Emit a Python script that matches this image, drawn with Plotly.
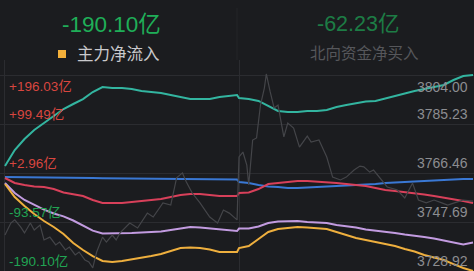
import plotly.graph_objects as go

# ---------------- data ----------------
# minutes since 09:30 open (0-120 morning, 120-240 afternoon)
minutes = [0, 5, 10, 15, 20, 25, 30, 35, 40, 45, 50, 55, 60, 65, 70, 75, 80, 85, 90, 95,
           100, 105, 110, 115, 119, 120, 125, 130, 135, 140, 145, 150, 155, 160, 165, 170,
           175, 180, 185, 190, 195, 200, 205, 210, 215, 220, 225, 230, 235, 240]

# fund flows (亿)
teal = [16.8, 48.3, 69.9, 87.7, 101.5, 115.3, 129.0, 138.9, 148.7, 162.5, 172.4, 170.4, 170.4,
        168.4, 164.5, 162.5, 160.6, 156.6, 152.7, 148.7, 148.7, 148.7, 152.7, 154.7, 156.6,
        150.7, 148.7, 145.0, 135.0, 125.1, 123.1, 123.1, 125.1, 125.1, 127.1, 133.0, 136.9,
        140.9, 143.8, 144.8, 149.7, 154.7, 160.6, 164.5, 168.4, 172.4, 176.3, 186.2, 194.1, 196.0]
blue = [-4.9, -5.0, -5.2, -5.5, -5.9, -6.1, -6.4, -6.6, -6.9, -7.1, -7.4, -7.6, -7.9, -8.1,
        -8.4, -8.6, -8.9, -8.9, -9.0, -9.1, -9.2, -9.4, -9.6, -9.8, -9.9,
        -14.8, -16.7, -20.7, -23.6, -24.6, -26.6, -26.6, -25.6, -24.6, -24.6, -23.6, -22.6,
        -21.7, -20.7, -18.7, -16.7, -15.8, -14.8, -12.8, -11.8, -10.8, -9.9, -8.9, -8.9, -8.9]
red = [-6.9, -16.7, -20.7, -23.6, -24.6, -28.6, -35.5, -38.4, -42.3, -50.2, -56.1, -56.1, -56.1,
       -54.2, -52.2, -50.2, -48.3, -44.3, -40.4, -38.4, -38.4, -40.4, -42.3, -42.3, -42.3,
       -36.4, -35.5, -28.6, -18.7, -16.7, -14.8, -12.8, -12.8, -13.8, -14.8, -16.7, -18.7,
       -20.7, -22.6, -26.6, -30.5, -32.5, -34.5, -36.4, -39.4, -42.3, -45.3, -48.3, -52.2, -56.1]
purple = [-16.7, -36.4, -50.2, -60.1, -69.2, -76.9, -82.5, -90.6, -100.5, -110.5, -116.2, -116.2,
          -116.2, -115.2, -114.3, -113.3, -112.3, -109.3, -106.4, -103.4, -104.4, -106.4, -108.3,
          -110.3, -111.3,
          -106.4, -106.4, -102.4, -95.5, -92.6, -91.6, -91.6, -93.6, -94.5, -95.5, -99.5, -101.4,
          -104.4, -108.3, -110.3, -112.3, -115.2, -118.2, -120.2, -123.1, -126.1, -130.0, -134.0,
          -137.9, -134.0]
orange = [-18.7, -44.3, -62.0, -77.8, -91.6, -103.4, -117.2, -135.0, -148.8, -160.6, -170.4,
          -172.4, -170.4, -167.5, -164.5, -160.6, -156.6, -150.7, -144.8, -143.8, -144.8, -147.8,
          -152.7, -152.7, -152.7,
          -144.8, -140.9, -127.1, -113.3, -107.4, -105.4, -103.4, -104.4, -105.4, -107.4, -113.3,
          -119.2, -125.1, -129.1, -133.0, -137.0, -140.9, -146.8, -151.7, -158.6, -163.5, -168.5,
          -176.4, -184.2, -190.1]

# index (right axis)
idx_minutes = [0, 3, 5, 8, 10, 13, 15, 18, 20, 23, 26, 28, 31, 33, 36, 38, 41, 43, 45, 47, 50,
               52, 55, 57, 59, 64, 68, 73, 76, 81, 85, 88, 91, 93, 96, 100, 105, 109, 112, 115,
               119, 120, 122, 124, 125, 127, 129, 131, 133, 134, 136, 138, 140, 143, 145, 148,
               151, 155, 157, 161, 165, 168, 172, 175, 179, 182, 184, 187, 189, 193, 196, 201,
               205, 209, 212, 216, 220, 224, 227, 232, 235, 240]
idx_values = [3742.7, 3747.3, 3748.5, 3745.8, 3743.5, 3747.3, 3744.6, 3746.5, 3740.8, 3741.9,
              3738.9, 3740.0, 3737.0, 3738.1, 3735.1, 3736.2, 3733.1, 3732.4, 3730.1, 3736.2,
              3741.9, 3740.0, 3742.7, 3740.8, 3743.5, 3747.3, 3745.4, 3751.1, 3749.6, 3755.0,
              3754.2, 3764.6, 3766.5, 3763.0, 3758.8, 3755.0, 3749.6, 3747.3, 3752.3, 3751.1,
              3748.5, 3772.6, 3774.5, 3769.5, 3761.9, 3779.1, 3779.9, 3792.5, 3799.0, 3804.4,
              3797.5, 3791.4, 3792.5, 3780.3, 3785.6, 3783.7, 3776.4, 3780.6, 3778.3, 3779.1,
              3772.6, 3764.9, 3763.8, 3764.9, 3767.6, 3769.1, 3768.8, 3766.8, 3767.6, 3763.8,
              3761.1, 3760.0, 3756.9, 3762.6, 3756.1, 3755.0, 3756.1, 3755.0, 3754.2, 3755.4,
              3756.1, 3755.7]

left_ticks = [196.03, 99.49, 2.96, -93.57, -190.10]
left_labels = ["+196.03亿", "+99.49亿", "+2.96亿", "-93.57亿", "-190.10亿"]
right_ticks = [3804.00, 3785.23, 3766.46, 3747.69, 3728.92]
right_labels = ["3804.00", "3785.23", "3766.46", "3747.69", "3728.92"]

main_value = "-190.10亿"
main_name = "主力净流入"
north_value = "-62.23亿"
north_name = "北向资金净买入"

# ---------------- styling ----------------
W, H = 474, 271
BG = "#1b1c1f"
GRID = "#2b2c30"
FONT = "Liberation Sans, Arial, Noto Sans CJK SC, sans-serif"
RED = "#d8463f"
GREEN = "#21a453"

fig = go.Figure()

fig.add_trace(go.Scatter(x=idx_minutes, y=idx_values, yaxis="y2", mode="lines",
                         line=dict(color="#444549", width=1.2), hoverinfo="skip"))
series = [(teal, "#33b5a0", 2), (blue, "#3a78d4", 2), (red, "#d8405a", 2),
          (purple, "#c29be0", 2), (orange, "#eeaf3e", 2)]
for vals, col, w in series:
    fig.add_trace(go.Scatter(x=minutes, y=vals, mode="lines",
                             line=dict(color=col, width=w), hoverinfo="skip"))

plot_top_frac = 211 / 271
lrange = [-190.10, 225.58]
rrange = [3728.92, 3809.75]

fig.update_layout(
    width=W, height=H,
    margin=dict(l=0, r=0, t=0, b=0),
    paper_bgcolor=BG, plot_bgcolor=BG,
    showlegend=False,
    xaxis=dict(range=[-2.56, 240.5], tickvals=[0, 120], showticklabels=False,
               showgrid=True, gridcolor=GRID, gridwidth=1, zeroline=False, showline=False),
    yaxis=dict(range=lrange, domain=[0, plot_top_frac], tickvals=left_ticks,
               showticklabels=False, showgrid=True, gridcolor=GRID, gridwidth=1,
               zeroline=False),
    yaxis2=dict(range=rrange, overlaying="y", side="right", showticklabels=False,
                showgrid=False, zeroline=False),
)

ann = []
for i, (v, t) in enumerate(zip(left_ticks, left_labels)):
    col = RED if v > 0 else GREEN
    ann.append(dict(x=0.015, xref="paper", y=v, yref="y", text=t, showarrow=False,
                    xanchor="left", yanchor="top" if i == 0 else "bottom",
                    yshift=-2 if i == 0 else 0,
                    font=dict(family=FONT, size=13.5, color=col)))
for i, (v, t) in enumerate(zip(right_ticks, right_labels)):
    ann.append(dict(x=0.992, xref="paper", y=v, yref="y2", text=t, showarrow=False,
                    xanchor="right", yanchor="top" if i == 0 else "bottom",
                    yshift=-2 if i == 0 else 0,
                    font=dict(family=FONT, size=14, color="#8c8d91")))

# header
ann.append(dict(x=111 / W, y=1 - 24 / H, xref="paper", yref="paper", text=main_value,
                showarrow=False, xanchor="center", yanchor="middle",
                font=dict(family=FONT, size=22.5, color="#1fae58")))
ann.append(dict(x=75 / W, y=1 - 54 / H, xref="paper", yref="paper", text=main_name,
                showarrow=False, xanchor="left", yanchor="middle",
                font=dict(family=FONT, size=16.5, color="#c9c9cc")))
ann.append(dict(x=358 / W, y=1 - 24 / H, xref="paper", yref="paper", text=north_value,
                showarrow=False, xanchor="center", yanchor="middle",
                font=dict(family=FONT, size=21.5, color="#1d7c45")))
ann.append(dict(x=364 / W, y=1 - 54 / H, xref="paper", yref="paper", text=north_name,
                showarrow=False, xanchor="center", yanchor="middle",
                font=dict(family=FONT, size=15.5, color="#56575b")))
fig.update_layout(annotations=ann)

fig.add_shape(type="rect", xref="paper", yref="paper",
              x0=58 / W, x1=66 / W, y0=1 - 58 / H, y1=1 - 50 / H,
              fillcolor="#f4b03a", line=dict(width=0), layer="above")
fig.add_shape(type="line", xref="paper", yref="paper",
              x0=237 / W, x1=237 / W, y0=1 - 60 / H, y1=1 - 8 / H,
              line=dict(color="#242528", width=1))

fig.write_html("out.html")
